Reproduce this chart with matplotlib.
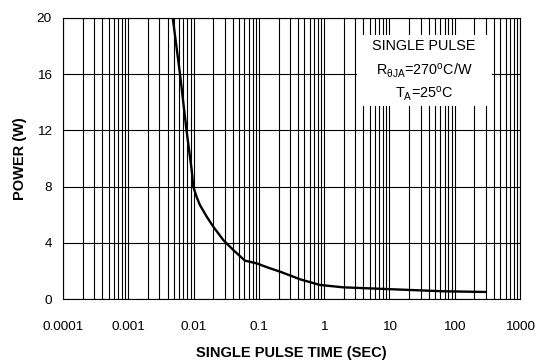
import matplotlib
matplotlib.use("Agg")
import matplotlib.pyplot as plt
from matplotlib.patches import Rectangle
from matplotlib.ticker import LogLocator

plt.rcParams['font.family'] = ['Liberation Sans', 'DejaVu Sans']
plt.rcParams['mathtext.fontset'] = 'custom'
plt.rcParams['mathtext.rm'] = 'Liberation Sans'
plt.rcParams['mathtext.it'] = 'Liberation Sans'

# single pulse power curve
pulse_time = [0.0048, 0.0062, 0.0078, 0.00935, 0.0099, 0.0111, 0.0125, 0.0159,
              0.020, 0.0285, 0.0405, 0.0612, 0.092, 0.139, 0.21, 0.43, 0.86,
              1.96, 11.4, 66, 300]
power = [20, 16, 12, 9.2, 8.0, 7.28, 6.69, 5.86,
         5.15, 4.2, 3.49, 2.73, 2.54, 2.23, 1.95, 1.40, 1.0,
         0.83, 0.69, 0.55, 0.5]

x_ticks = [0.0001, 0.001, 0.01, 0.1, 1, 10, 100, 1000]
x_ticklabels = ['0.0001', '0.001', '0.01', '0.1', '1', '10', '100', '1000']
y_ticks = [0, 4, 8, 12, 16, 20]

fig = plt.figure(figsize=(5.36, 3.62), dpi=100)
ax = fig.add_axes([63 / 536, 1 - 299 / 362, 457 / 536, 281 / 362])

ax.set_xscale('log')
ax.set_xlim(0.0001, 1000)
ax.set_ylim(0, 20)
ax.set_xticks(x_ticks)
ax.set_xticklabels(x_ticklabels)
ax.xaxis.set_minor_locator(LogLocator(base=10, subs=range(2, 10), numticks=50))
ax.xaxis.set_minor_formatter(plt.NullFormatter())
ax.set_yticks(y_ticks)

ax.grid(True, which='both', axis='x', color='black', lw=0.8)
ax.grid(True, which='major', axis='y', color='black', lw=0.8)
ax.set_axisbelow(True)
ax.tick_params(which='both', length=0, labelsize=9.7)
ax.tick_params(axis='x', pad=16)
ax.tick_params(axis='y', pad=8)
for s in ax.spines.values():
    s.set_color('black')
    s.set_linewidth(0.8)

ax.plot(pulse_time, power, color='black', lw=1.7, zorder=3)

# white box with the test conditions
ax.add_patch(Rectangle((0.643, 0.687), 0.296, 0.253, transform=ax.transAxes,
                       facecolor='white', edgecolor='none', zorder=2))
ax.text(0.79, 0.899, 'SINGLE PULSE', transform=ax.transAxes, ha='center',
        va='center', fontsize=10.4, zorder=4)
ax.text(0.79, 0.812, r'R$_{\theta\mathrm{JA}}$=270$^{\mathrm{o}}$C/W', transform=ax.transAxes,
        ha='center', va='center', fontsize=10.4, zorder=4)
ax.text(0.79, 0.73, r'T$_{\mathrm{A}}$=25$^{\mathrm{o}}$C', transform=ax.transAxes,
        ha='center', va='center', fontsize=10.4, zorder=4)

ax.set_xlabel('SINGLE PULSE TIME (SEC)', fontsize=10.5, fontweight='bold', va='center')
ax.set_ylabel('POWER (W)', fontsize=10.5, fontweight='bold', va='center')
ax.xaxis.set_label_coords(0.5, -(353 - 299) / 281)
ax.yaxis.set_label_coords(-(63 - 20) / 457, 0.5)

fig.savefig('out.png', dpi=100)
